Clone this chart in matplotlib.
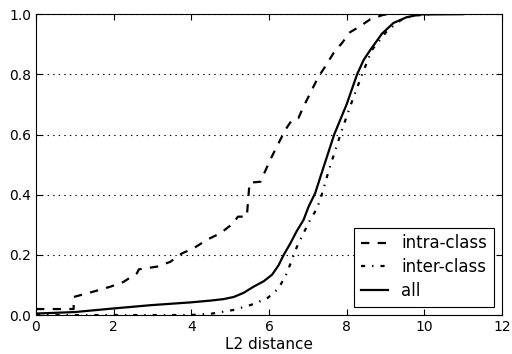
import matplotlib
matplotlib.use("Agg")
import matplotlib.pyplot as plt

# CDF points (L2 distance, cumulative fraction)
intra_x = [0.0, 0.97, 0.97, 1.48, 1.91, 2.25, 2.6, 2.65, 3.12, 3.46, 3.76, 4.06, 4.4,
           4.75, 5.08, 5.2, 5.43, 5.5, 5.78, 6.03, 6.16, 6.29, 6.42, 6.59, 6.76, 6.89,
           7.02, 7.15, 7.28, 7.45, 7.66, 7.88, 8.09, 8.35, 8.61, 8.95, 9.2]
intra_y = [0.02, 0.02, 0.06, 0.078, 0.094, 0.11, 0.139, 0.152, 0.161, 0.177, 0.205, 0.222,
           0.25, 0.272, 0.305, 0.327, 0.327, 0.44, 0.443, 0.515, 0.549, 0.582, 0.615, 0.648,
           0.655, 0.693, 0.726, 0.76, 0.793, 0.826, 0.87, 0.904, 0.94, 0.96, 0.983, 0.998, 1.0]

inter_x = [0.0, 3.97, 4.49, 5.09, 5.52, 5.95, 6.25, 6.46, 6.59, 6.72, 6.89, 7.06, 7.24,
           7.36, 7.54, 7.84, 8.09, 8.4, 8.65, 9.04, 9.38, 9.72, 10.2]
inter_y = [0.0, 0.0, 0.004, 0.017, 0.033, 0.055, 0.089, 0.139, 0.183, 0.227, 0.272, 0.316,
           0.355, 0.4, 0.48, 0.6, 0.693, 0.8, 0.881, 0.944, 0.979, 0.995, 1.0]

all_x = [0.0, 1.0, 2.0, 2.97, 3.97, 4.49, 4.83, 5.09, 5.35, 5.6, 5.86, 6.08, 6.25, 6.38,
         6.55, 6.72, 6.89, 7.02, 7.19, 7.41, 7.68, 8.0, 8.27, 8.44, 8.61, 8.91,
         9.21, 9.55, 9.9, 11.0]
all_y = [0.005, 0.01, 0.022, 0.033, 0.042, 0.048, 0.053, 0.06, 0.074, 0.094, 0.112, 0.134,
         0.166, 0.2, 0.238, 0.28, 0.316, 0.36, 0.405, 0.493, 0.6, 0.70, 0.8, 0.848,
         0.881, 0.935, 0.971, 0.99, 0.999, 1.0]

plt.rcParams["lines.scale_dashes"] = False

fig = plt.figure(figsize=(5.12, 3.54), dpi=100)
ax = fig.add_axes([0.0703, 0.110, 0.910, 0.850])

ax.plot(intra_x, intra_y, color="black", lw=1.6, linestyle=(0, (6, 6)), label="intra-class")
ax.plot(inter_x, inter_y, color="black", lw=1.6, linestyle=(0, (3, 5, 1, 5)), label="inter-class")
ax.plot(all_x, all_y, color="black", lw=1.6, linestyle="-", label="all")

ax.set_xlim(0, 12)
ax.set_ylim(0, 1.0)
ax.set_xticks(range(0, 13, 2))
ax.set_yticks([0.0, 0.2, 0.4, 0.6, 0.8, 1.0])
ax.yaxis.grid(True, color="black", linestyle=(0, (1, 3)), lw=0.8)
ax.tick_params(direction="in", top=True, right=True, length=4, labelsize=10)
ax.set_xlabel("L2 distance", fontsize=11, labelpad=2)

leg = ax.legend(loc="lower right", fontsize=12, fancybox=False, framealpha=1,
                edgecolor="black", borderaxespad=0.5, handlelength=1.6,
                labelspacing=0.35, borderpad=0.4)
leg.get_frame().set_linewidth(0.8)

fig.savefig("out.png", dpi=100)
